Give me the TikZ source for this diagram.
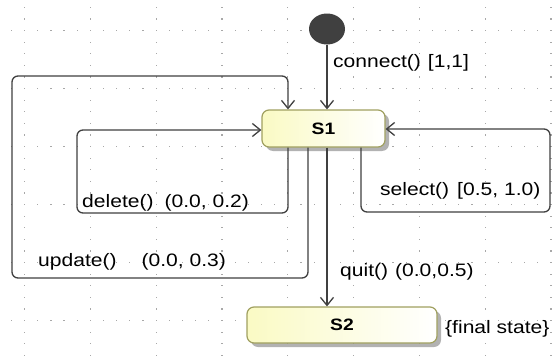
\documentclass[tikz,border=0pt]{standalone}
\usepackage{fontspec}
\setmainfont[FakeStretch=1.17]{Liberation Sans}
\usetikzlibrary{arrows.meta,shapes.geometric,shadows}
\definecolor{lnc}{HTML}{404040}
\definecolor{stb}{HTML}{A0A060}
\definecolor{sty}{HTML}{FAFAC4}
\definecolor{dotc}{HTML}{A8A8A8}
\begin{document}
\begin{tikzpicture}[x=1pt,y=-1pt,
 lbl/.style={anchor=west,inner sep=0pt,font=\fontsize{18}{20}\selectfont},
 state/.style={draw=stb,line width=1.2pt,rounded corners=7pt,left color=sty,right color=white,
   drop shadow={shadow xshift=4pt,shadow yshift=-4pt,fill=gray,opacity=0.6},
   font=\fontsize{16.5}{18}\selectfont\bfseries,inner sep=0pt},
 conn/.style={draw=lnc,line width=1.3pt,rounded corners=6pt},
 arr/.style={-{Straight Barb[length=8pt,width=13pt]}}
]
\useasboundingbox (0,0) rectangle (552,356);
\fill[white] (0,0) rectangle (552,356);
% dotted grid
\foreach \i in {0,...,8} {
  \foreach \j in {-3,...,28} {
    \fill[dotc] (24+65.8*\i, 30+11.6*\j) rectangle +(1.2,1.2);
  }
}
\foreach \i in {0,...,5} {
  \foreach \j in {-2,...,40} {
    \fill[dotc] (24+13.16*\j, 30+58*\i) rectangle +(1.2,1.2);
  }
}
% nodes
\node[ellipse, fill=lnc, minimum width=36pt, minimum height=31pt, inner sep=0pt] (init) at (327,29) {};
\node[state, minimum width=123pt, minimum height=37pt] (S1) at (323.5,128.5) {S1};
\node[state, minimum width=190pt, minimum height=36pt] (S2) at (342,325) {S2};
% corner coordinates
\coordinate (dR) at (288,213);
\coordinate (dL) at (77,213);
\coordinate (dT) at (77,130);
\coordinate (uR) at (308,278);
\coordinate (uL) at (12,278);
\coordinate (uT) at (12,76);
\coordinate (uTR) at (288,76);
\coordinate (sL) at (361,212);
\coordinate (sR) at (550,212);
\coordinate (sT) at (550,129);
% connectors
\draw[conn,arr] (init.south) -- (S1.north -| init);
\draw[conn,arr] (S1.south -| dR) -- (dR) -- (dL) -- (dT) -- (S1.west |- dT);
\draw[conn,arr] (S1.south -| uR) -- (uR) -- (uL) -- (uT) -- (uTR) -- (S1.north -| uTR);
\draw[conn,arr] (S1.south -| sL) -- (sL) -- (sR) -- (sT) -- (S1.east |- sT);
\draw[conn,arr] (S1.south -| init) -- (S2.north -| init);
% labels
\node[lbl] (lc) at (333,63) {connect()\hspace{7pt}[1,1]};
\node[lbl] (ld) at (82,203) {delete()\hspace{11pt}(0.0, 0.2)};
\node[lbl] (lu) at (38,262) {update()\hspace{25pt}(0.0, 0.3)};
\node[lbl] (ls) at (380,191) {select()\hspace{8pt}[0.5, 1.0)};
\node[lbl] (lq) at (340,272) {quit()\hspace{7pt}(0.0,0.5)};
\node[lbl] (lf) at (445,329) {\{final state\}};
\end{tikzpicture}
\end{document}
